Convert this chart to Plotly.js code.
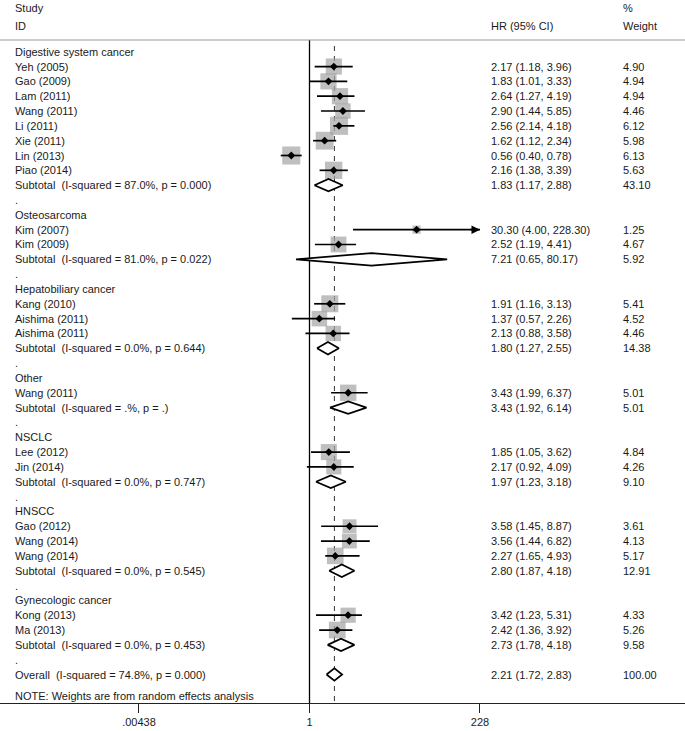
<!DOCTYPE html>
<html>
<head>
<meta charset="utf-8">
<script src="https://cdn.plot.ly/plotly-3.0.1.min.js"></script>
<style>html,body{margin:0;padding:0;background:#fff;}#chart{width:685px;height:731px;}</style>
</head>
<body>
<div id="chart"></div>
<script>
// ---- data ----
const groupNames = ["Digestive system cancer","Osteosarcoma","Hepatobiliary cancer","Other","NSCLC","HNSCC","Gynecologic cancer"];
const studyNames = ["Yeh (2005)","Gao (2009)","Lam (2011)","Wang (2011)","Li (2011)","Xie (2011)","Lin (2013)","Piao (2014)",
  "Kim (2007)","Kim (2009)","Kang (2010)","Aishima (2011)","Aishima (2011)","Wang (2011)","Lee (2012)","Jin (2014)",
  "Gao (2012)","Wang (2014)","Wang (2014)","Kong (2013)","Ma (2013)"];
const studyGroup = [0,0,0,0,0,0,0,0,1,1,2,2,2,3,4,4,5,5,5,6,6];
const studyHR = [2.17,1.83,2.64,2.90,2.56,1.62,0.56,2.16,30.30,2.52,1.91,1.37,2.13,3.43,1.85,2.17,3.58,3.56,2.27,3.42,2.42];
const studyLo = [1.18,1.01,1.27,1.44,2.14,1.12,0.40,1.38,4.00,1.19,1.16,0.57,0.88,1.99,1.05,0.92,1.45,1.44,1.65,1.23,1.36];
const studyHi = [3.96,3.33,4.19,5.85,4.18,2.34,0.78,3.39,228.30,4.41,3.13,2.26,3.58,6.37,3.62,4.09,8.87,6.82,4.93,5.31,3.92];
const studyWeight = [4.90,4.94,4.94,4.46,6.12,5.98,6.13,5.63,1.25,4.67,5.41,4.52,4.46,5.01,4.84,4.26,3.61,4.13,5.17,4.33,5.26];
const subI2 = ["87.0%","81.0%","0.0%",".%","0.0%","0.0%","0.0%"];
const subP = ["0.000","0.022","0.644",".","0.747","0.545","0.453"];
const subHR = [1.83,7.21,1.80,3.43,1.97,2.80,2.73];
const subLo = [1.17,0.65,1.27,1.92,1.23,1.87,1.78];
const subHi = [2.88,80.17,2.55,6.14,3.18,4.18,4.18];
const subWeight = [43.10,5.92,14.38,5.01,9.10,12.91,9.58];
const overallI2 = "74.8%", overallP = "0.000";
const overallHR = 2.21, overallLo = 1.72, overallHi = 2.83, overallWeight = 100.00;
const tickValues = [0.00438, 1, 228];
const tickLabels = [".00438", "1", "228"];
const noteText = "NOTE: Weights are from random effects analysis";

// ---- layout of rows ----
const FONT = "Liberation Sans, Arial, sans-serif";
const TXT = "#1a1a1a";
const NB = "\u00a0";
const xLabel = 13/685, xHR = 489/685, xW = 621/685;
const ann = [];
function txt(x, y, t, yref) {
  ann.push({xref:"paper", yref:yref || "y", x:x, y:y, text:t, showarrow:false, xanchor:"left", yanchor:"middle",
    font:{family:FONT, size:11, color:TXT}});
}
const fmt = v => v.toFixed(2);
const ciText = (h,l,u) => fmt(h) + " (" + fmt(l) + ", " + fmt(u) + ")";

const studyRow = new Array(studyNames.length);
const subRow = [];
let r = 1;
groupNames.forEach((g, gi) => {
  txt(xLabel, r, g); r++;
  studyNames.forEach((s, i) => {
    if (studyGroup[i] === gi) {
      studyRow[i] = r;
      txt(xLabel, r, s);
      txt(xHR, r, ciText(studyHR[i], studyLo[i], studyHi[i]));
      txt(xW, r, fmt(studyWeight[i]));
      r++;
    }
  });
  subRow[gi] = r;
  txt(xLabel, r, "Subtotal" + NB + NB + "(I-squared = " + subI2[gi] + ", p = " + subP[gi] + ")");
  txt(xHR, r, ciText(subHR[gi], subLo[gi], subHi[gi]));
  txt(xW, r, fmt(subWeight[gi]));
  r++;
  txt(xLabel, r, "."); r++;
});
const overallRow = r;
txt(xLabel, overallRow, "Overall" + NB + NB + "(I-squared = " + overallI2 + ", p = " + overallP + ")");
txt(xHR, overallRow, ciText(overallHR, overallLo, overallHi));
txt(xW, overallRow, overallWeight.toFixed(2));
txt(xLabel, overallRow + 1.42, noteText);
// headers (above the plotting area, in paper units)
const yTop = (703 - 8) / 663, yId = (703 - 26) / 663;
txt(xLabel, yTop, "Study", "paper");
txt(xLabel, yId, "ID", "paper");
txt(xHR, yId, "HR (95% CI)", "paper");
txt(xW, yTop, "%", "paper");
txt(xW, yId, "Weight", "paper");

// ---- traces ----
const traces = [];
traces.push({type:"scatter", mode:"markers", x:studyHR, y:studyRow, hoverinfo:"skip",
  marker:{symbol:"square", color:"#a4a4a4", size:studyWeight.map(w => 7.3*Math.sqrt(w)), line:{width:0}}});
const cx = [], cy = [];
studyHR.forEach((h, i) => {
  cx.push(studyLo[i], studyHi[i], null);
  cy.push(studyRow[i], studyRow[i], null);
});
traces.push({type:"scatter", mode:"lines", x:cx, y:cy, hoverinfo:"skip", line:{color:"#000", width:1.7}});
traces.push({type:"scatter", mode:"markers", x:studyHR, y:studyRow, hoverinfo:"skip",
  marker:{symbol:"diamond", color:"#000", size:6}});
const dx = [], dy = [], H = 0.42;
function diamond(h, l, u, row) {
  dx.push(l, h, u, h, l, null);
  dy.push(row, row - H, row, row + H, row, null);
}
subHR.forEach((h, gi) => diamond(h, subLo[gi], subHi[gi], subRow[gi]));
diamond(overallHR, overallLo, overallHi, overallRow);
traces.push({type:"scatter", mode:"lines", x:dx, y:dy, fill:"toself", fillcolor:"#fff", hoverinfo:"skip",
  line:{color:"#000", width:1.7}});

// arrows for CIs beyond the axis
studyHi.forEach((u, i) => {
  if (u > tickValues[tickValues.length - 1]) {
    ann.push({x:Math.log10(u), y:studyRow[i], xref:"x", yref:"y", ax:-11, ay:0, text:"", showarrow:true,
      arrowhead:2, arrowsize:1, arrowwidth:1.7, arrowcolor:"#000"});
  }
});

const layout = {
  width:685, height:731,
  margin:{l:0, r:0, t:40, b:28, pad:0},
  paper_bgcolor:"#fff", plot_bgcolor:"#fff",
  showlegend:false,
  xaxis:{type:"log", range:[-4.281, 5.194], tickvals:tickValues, ticktext:tickLabels,
    ticks:"outside", ticklen:9, tickwidth:1, tickcolor:"#222", showline:true, linecolor:"#222", linewidth:1,
    showgrid:false, zeroline:false, tickfont:{family:FONT, size:11, color:TXT}, fixedrange:true},
  yaxis:{range:[44.92, 0.211], visible:false, fixedrange:true},
  annotations:ann,
  shapes:[
    {type:"line", xref:"paper", yref:"paper", x0:0, x1:1, y0:1, y1:1, line:{color:"#9a9a9a", width:1.2}},
    {type:"line", xref:"x", yref:"paper", x0:1, x1:1, y0:0, y1:1, layer:"below", line:{color:"#000", width:1.3}},
    {type:"line", xref:"x", yref:"paper", x0:overallHR, x1:overallHR, y0:0.003, y1:0.992,
      layer:"below", line:{color:"#333", width:1, dash:"5px,5px"}}
  ]
};
Plotly.newPlot("chart", traces, layout, {displayModeBar:false, staticPlot:true});
</script>
</body>
</html>
